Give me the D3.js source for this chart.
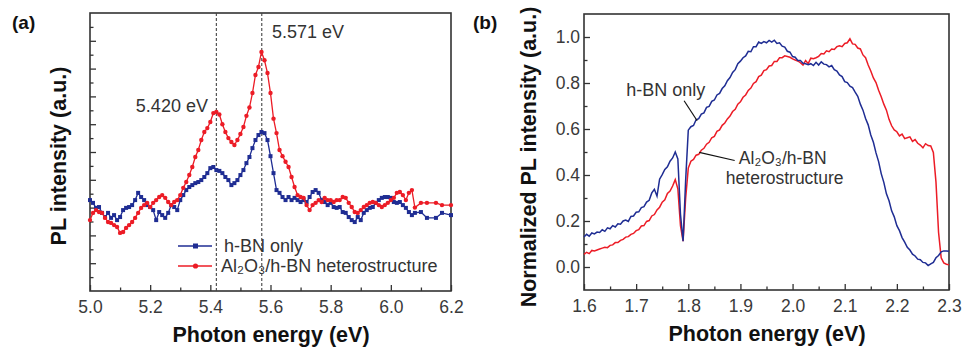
<!DOCTYPE html>
<html>
<head>
<meta charset="utf-8">
<script src="https://cdn.jsdelivr.net/npm/d3@7"></script>
<style>
  body { margin: 0; background: #fff; }
  svg text { font-family: Arial, "Liberation Sans", Helvetica, sans-serif; }
</style>
</head>
<body>
<svg id="chart" width="962" height="347"></svg>
<script>
// ---------- panel (a): PL spectra, arbitrary units ----------
const aEnergy = [
  5.00,5.01,5.02,5.03,5.04,5.05,5.06,5.07,5.08,5.09,
  5.10,5.11,5.12,5.13,5.14,5.15,5.16,5.17,5.18,5.19,
  5.20,5.21,5.22,5.23,5.24,5.25,5.26,5.27,5.28,5.29,
  5.30,5.31,5.32,5.33,5.34,5.35,5.36,5.37,5.38,5.39,
  5.40,5.41,5.42,5.43,5.44,5.45,5.46,5.47,5.48,5.49,
  5.50,5.51,5.52,5.53,5.54,5.55,5.56,5.57,5.58,5.59,
  5.60,5.61,5.62,5.63,5.64,5.65,5.66,5.67,5.68,5.69,
  5.70,5.71,5.72,5.73,5.74,5.75,5.76,5.77,5.78,5.79,
  5.80,5.81,5.82,5.83,5.84,5.85,5.86,5.87,5.88,5.89,
  5.90,5.91,5.92,5.93,5.94,5.95,5.96,5.97,5.98,5.99,
  6.00,6.01,6.02,6.03,6.04,6.05,6.06,6.07,6.08,
  6.10,6.12,6.15,6.17,6.20
];
const aHbn = [
  3.27,3.17,2.99,3.02,2.81,2.66,2.81,2.63,2.73,2.55,
  2.66,2.91,2.99,3.02,3.09,3.27,3.53,3.38,3.27,3.09,
  3.02,2.91,2.55,2.84,2.73,2.63,2.81,3.09,3.02,2.91,
  3.27,3.45,3.63,3.74,3.81,3.88,3.92,3.99,4.10,4.24,
  4.42,4.46,4.35,4.32,4.24,4.10,3.99,3.81,3.88,3.99,
  4.17,4.35,4.60,4.82,5.14,5.43,5.61,5.72,5.68,5.43,
  4.85,4.24,3.63,3.53,3.38,3.27,3.38,3.27,3.35,3.27,
  3.20,3.27,3.20,3.38,3.56,3.63,3.53,3.27,3.20,3.09,
  3.17,3.02,2.99,3.02,2.84,2.81,2.66,2.55,2.48,2.66,
  2.55,2.81,2.91,2.99,3.02,3.17,3.27,3.35,3.38,3.38,
  3.35,3.20,3.17,3.20,3.09,2.99,2.84,2.73,2.81,
  2.84,2.63,2.63,2.81,2.73
];
const aHetero = [
  2.55,2.81,2.91,2.84,2.81,2.63,2.48,2.45,2.37,2.30,
  2.09,2.12,2.27,2.37,2.48,2.63,2.81,2.99,3.09,3.17,
  3.02,3.17,3.27,3.38,3.45,3.35,3.20,3.09,3.20,3.27,
  3.45,3.71,3.92,4.17,4.46,4.82,5.07,5.43,5.72,5.86,
  6.08,6.40,6.44,6.35,6.00,5.72,5.50,5.36,5.25,5.43,
  5.65,5.90,6.30,6.60,7.12,7.77,8.06,8.60,8.30,7.84,
  7.12,6.20,5.68,5.07,4.85,4.65,4.46,4.10,3.74,3.45,
  3.38,3.35,3.09,2.91,3.09,3.17,3.27,3.20,3.35,3.27,
  3.27,3.20,3.27,3.27,3.38,3.35,3.17,3.02,2.84,2.81,
  2.91,3.02,3.09,3.17,3.20,3.17,3.09,3.02,3.09,3.17,
  3.27,3.35,3.53,3.56,3.45,3.27,3.53,3.63,3.00,
  3.17,3.17,3.17,3.09,3.09
];
const aPeaks = [5.420, 5.571];
const aXTicks = [5.0, 5.2, 5.4, 5.6, 5.8, 6.0, 6.2];

// ---------- panel (b): normalized PL ----------
const bEnergy = [
  1.600,1.605,1.610,1.615,1.620,1.625,1.630,1.635,1.640,1.645,
  1.650,1.655,1.660,1.665,1.670,1.675,1.680,1.685,1.690,1.695,
  1.700,1.705,1.710,1.715,1.720,1.725,1.730,1.735,1.740,1.745,
  1.750,1.755,1.760,1.765,1.770,1.775,1.780,1.785,1.790,1.795,
  1.800,1.805,1.810,1.815,1.820,1.825,1.830,1.835,1.840,1.845,
  1.850,1.855,1.860,1.865,1.870,1.875,1.880,1.885,1.890,1.895,
  1.900,1.905,1.910,1.915,1.920,1.925,1.930,1.935,1.940,1.945,
  1.950,1.955,1.960,1.965,1.970,1.975,1.980,1.985,1.990,1.995,
  2.000,2.005,2.010,2.015,2.020,2.025,2.030,2.035,2.040,2.045,
  2.050,2.055,2.060,2.065,2.070,2.075,2.080,2.085,2.090,2.095,
  2.100,2.105,2.110,2.115,2.120,2.125,2.130,2.135,2.140,2.145,
  2.150,2.155,2.160,2.165,2.170,2.175,2.180,2.185,2.190,2.195,
  2.200,2.205,2.210,2.215,2.220,2.225,2.230,2.235,2.240,2.245,
  2.250,2.255,2.260,2.265,2.270,2.275,2.280,2.285,2.290,2.295,
  2.300
];
const bHbn = [
  0.130,0.142,0.134,0.148,0.144,0.152,0.150,0.162,0.155,0.170,
  0.166,0.180,0.174,0.188,0.186,0.200,0.204,0.198,0.220,0.222,
  0.238,0.240,0.258,0.262,0.282,0.290,0.322,0.338,0.308,0.382,
  0.402,0.424,0.436,0.460,0.474,0.500,0.470,0.230,0.112,0.380,
  0.595,0.610,0.615,0.640,0.645,0.665,0.670,0.694,0.698,0.720,
  0.726,0.748,0.755,0.776,0.788,0.810,0.824,0.846,0.858,0.884,
  0.895,0.910,0.918,0.938,0.936,0.958,0.958,0.978,0.972,0.980,
  0.975,0.985,0.978,0.986,0.972,0.975,0.960,0.956,0.938,0.934,
  0.915,0.912,0.898,0.898,0.886,0.884,0.880,0.884,0.876,0.890,
  0.878,0.892,0.882,0.880,0.870,0.876,0.858,0.852,0.835,0.828,
  0.806,0.802,0.786,0.780,0.760,0.742,0.708,0.682,0.646,0.618,
  0.574,0.542,0.496,0.458,0.406,0.368,0.318,0.288,0.244,0.218,
  0.180,0.158,0.128,0.108,0.086,0.074,0.056,0.048,0.034,0.032,
  0.020,0.018,0.006,0.014,0.020,0.040,0.050,0.066,0.070,0.070,
  0.068
];
const bHetero = [
  0.055,0.064,0.058,0.072,0.070,0.074,0.078,0.082,0.086,0.084,
  0.094,0.096,0.106,0.106,0.116,0.120,0.130,0.132,0.142,0.146,
  0.158,0.162,0.178,0.180,0.198,0.202,0.222,0.228,0.248,0.260,
  0.282,0.292,0.320,0.330,0.352,0.380,0.340,0.180,0.112,0.300,
  0.430,0.460,0.468,0.486,0.490,0.508,0.516,0.534,0.542,0.562,
  0.568,0.590,0.596,0.616,0.626,0.644,0.656,0.676,0.686,0.708,
  0.718,0.738,0.748,0.768,0.778,0.798,0.806,0.828,0.834,0.854,
  0.858,0.874,0.876,0.894,0.894,0.910,0.910,0.918,0.915,0.912,
  0.905,0.900,0.896,0.888,0.878,0.898,0.884,0.908,0.906,0.910,
  0.916,0.928,0.926,0.940,0.936,0.948,0.946,0.958,0.962,0.958,
  0.972,0.975,0.992,0.970,0.968,0.952,0.948,0.922,0.910,0.878,
  0.852,0.822,0.802,0.768,0.740,0.708,0.682,0.642,0.614,0.596,
  0.588,0.570,0.578,0.558,0.562,0.566,0.546,0.554,0.538,0.530,
  0.518,0.536,0.528,0.526,0.498,0.370,0.150,0.040,0.018,0.012,
  0.010
];
const bXTicks = [1.6, 1.7, 1.8, 1.9, 2.0, 2.1, 2.2, 2.3];
const bYTicks = [0.0, 0.2, 0.4, 0.6, 0.8, 1.0];

const BLUE = "#1f2d93", RED = "#ec1c26", INK = "#333";
const svg = d3.select("#chart");

// frame + inward ticks, like the original Origin plots
function frame(x, y, xMajor, xMinor, yMajor, yMinor, xFmt, yFmt) {
  const g = svg.append("g");
  const [x0, x1] = x.range(), [y0, y1] = y.range();

  const bx = g.append("g").attr("transform", `translate(0,${y0})`)
    .call(d3.axisBottom(x).tickValues(xMajor).tickSize(-6).tickPadding(10).tickFormat(xFmt));
  const bxm = g.append("g").attr("transform", `translate(0,${y0})`)
    .call(d3.axisBottom(x).tickValues(xMinor).tickSize(-3.5).tickFormat(""));
  const ly = g.append("g").attr("transform", `translate(${x0},0)`)
    .call(d3.axisLeft(y).tickValues(yMajor).tickSize(-6).tickPadding(4).tickFormat(yFmt));
  const lym = g.append("g").attr("transform", `translate(${x0},0)`)
    .call(d3.axisLeft(y).tickValues(yMinor).tickSize(-3.5).tickFormat(""));

  [bx, bxm, ly, lym].forEach(a => {
    a.select(".domain").remove();
    a.selectAll("line").attr("stroke", INK).attr("stroke-width", 1.3);
    a.selectAll("text").attr("fill", "#3a3a3a").style("font-size", "17.5px");
  });

  g.append("rect")
    .attr("x", x0).attr("y", y1)
    .attr("width", x1 - x0).attr("height", y0 - y1)
    .attr("fill", "none").attr("stroke", INK).attr("stroke-width", 1.6);
  return g;
}

function title(txt, cx, cy, rotate) {
  svg.append("text")
    .attr("transform", `translate(${cx},${cy})` + (rotate ? " rotate(-90)" : ""))
    .attr("text-anchor", "middle")
    .style("font-size", "21.5px").style("font-weight", "bold")
    .attr("fill", "#111")
    .text(txt);
}

function note(x, y, txt) {
  return svg.append("text").attr("x", x).attr("y", y)
    .style("font-size", "18px").attr("fill", INK).text(txt);
}

// ================= panel (a) =================
const xa = d3.scaleLinear().domain([5.0, 6.2]).range([90, 451]);
const ya = d3.scaleLinear().domain([0, 10]).range([291, 13]);

frame(xa, ya, aXTicks, d3.range(5.1, 6.2, 0.2),
      d3.range(1, 10), d3.range(0.5, 10, 1),
      d3.format(".1f"), "");

svg.selectAll(".peak").data(aPeaks).join("line")
  .attr("x1", d => xa(d)).attr("x2", d => xa(d))
  .attr("y1", ya(10)).attr("y2", ya(0))
  .attr("stroke", "#444").attr("stroke-width", 1.1)
  .attr("stroke-dasharray", "3,2");

const lineA = d3.line().x(d => xa(d[0])).y(d => ya(d[1]));
const hbnA = d3.zip(aEnergy, aHbn), hetA = d3.zip(aEnergy, aHetero);

svg.append("path").datum(hbnA).attr("d", lineA)
  .attr("fill", "none").attr("stroke", BLUE).attr("stroke-width", 1.3);
svg.append("g").selectAll("rect").data(hbnA).join("rect")
  .attr("x", d => xa(d[0]) - 2).attr("y", d => ya(d[1]) - 2)
  .attr("width", 4).attr("height", 4).attr("fill", BLUE);

svg.append("path").datum(hetA).attr("d", lineA)
  .attr("fill", "none").attr("stroke", RED).attr("stroke-width", 1.3);
svg.append("g").selectAll("circle").data(hetA).join("circle")
  .attr("cx", d => xa(d[0])).attr("cy", d => ya(d[1]))
  .attr("r", 2.2).attr("fill", RED);

note(xa(5.392), ya(6.44), "5.420 eV").attr("text-anchor", "end");
note(xa(5.605), ya(9.1), "5.571 eV");

// legend
const legA = svg.append("g");
[[BLUE, 246, "sq"], [RED, 266, "ci"]].forEach(([c, ly, m]) => {
  legA.append("line").attr("x1", 178).attr("x2", 212).attr("y1", ly).attr("y2", ly)
    .attr("stroke", c).attr("stroke-width", 1.6);
  if (m === "sq") legA.append("rect").attr("x", 193).attr("y", ly - 2.5).attr("width", 5).attr("height", 5).attr("fill", c);
  else legA.append("circle").attr("cx", 195.5).attr("cy", ly).attr("r", 2.6).attr("fill", c);
});
note(224, 252, "h-BN only");
note(221, 272, "Al\u2082O\u2083/h-BN heterostructure");

title("Photon energy (eV)", 271, 342, false);
title("PL intensity (a.u.)", 66, 156, true);
svg.append("text").attr("x", 12).attr("y", 29)
  .style("font-size", "19px").style("font-weight", "bold").attr("fill", "#111").text("(a)");

// ================= panel (b) =================
const xb = d3.scaleLinear().domain([1.6, 2.3]).range([584, 949]);
const yb = d3.scaleLinear().domain([-0.1, 1.1]).range([290, 14]);

frame(xb, yb, bXTicks, d3.range(1.65, 2.3, 0.1),
      bYTicks, d3.range(0.1, 1.0, 0.2),
      d3.format(".1f"), d3.format(".1f"));

const lineB = d3.line().x(d => xb(d[0])).y(d => yb(d[1]));
svg.append("path").datum(d3.zip(bEnergy, bHetero)).attr("d", lineB)
  .attr("fill", "none").attr("stroke", RED).attr("stroke-width", 1.5);
svg.append("path").datum(d3.zip(bEnergy, bHbn)).attr("d", lineB)
  .attr("fill", "none").attr("stroke", BLUE).attr("stroke-width", 1.5);

// callouts
svg.append("line")
  .attr("x1", xb(1.792)).attr("y1", yb(0.723)).attr("x2", xb(1.817)).attr("y2", yb(0.636))
  .attr("stroke", "#111").attr("stroke-width", 1.2);
svg.append("line")
  .attr("x1", xb(1.821)).attr("y1", yb(0.498)).attr("x2", xb(1.889)).attr("y2", yb(0.463))
  .attr("stroke", "#111").attr("stroke-width", 1.2);
note(xb(1.681), yb(0.745), "h-BN only");
note(xb(1.897), yb(0.450), "Al\u2082O\u2083/h-BN").style("font-size", "17.5px");
note(xb(1.872), yb(0.360), "heterostructure").style("font-size", "17.5px");

title("Photon energy (eV)", 767, 341, false);
title("Normalized PL intensity (a.u.)", 536, 157, true);
svg.append("text").attr("x", 473).attr("y", 29)
  .style("font-size", "19px").style("font-weight", "bold").attr("fill", "#111").text("(b)");
</script>
</body>
</html>
